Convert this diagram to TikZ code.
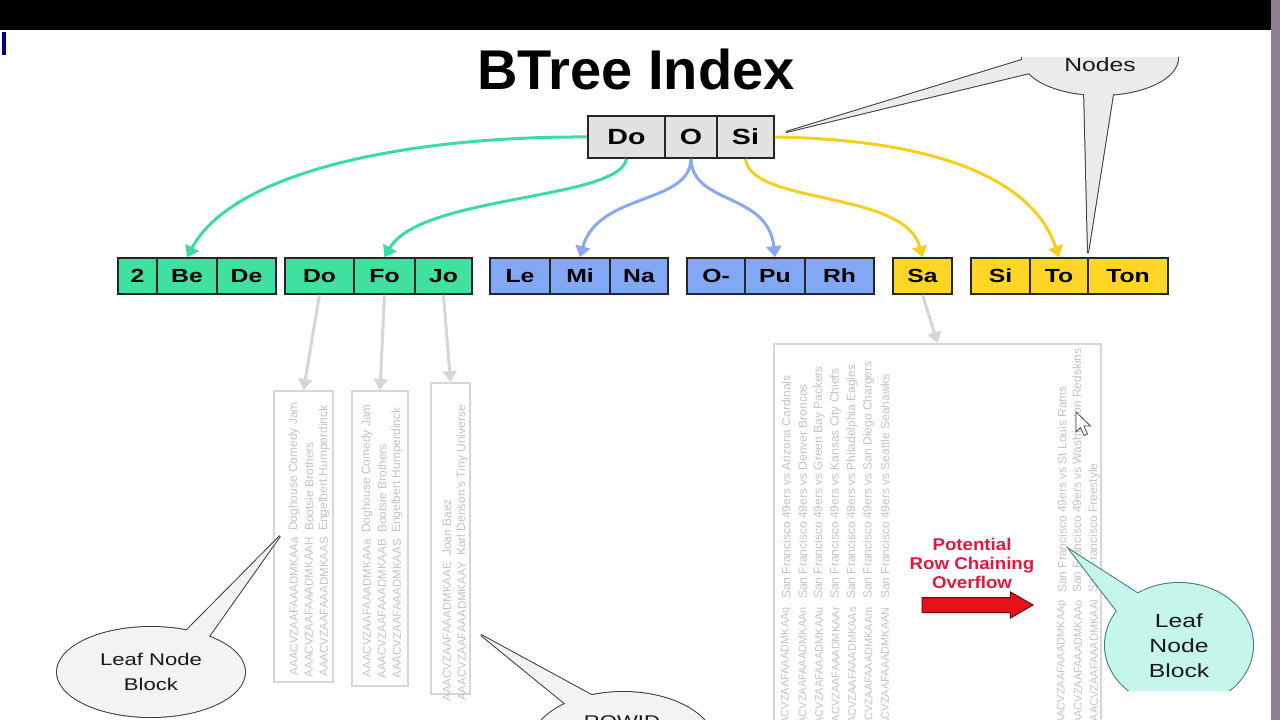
\documentclass[tikz,border=0pt]{standalone}
\usepackage{fontspec}
\setmainfont{Liberation Sans}
\newfontfamily\widef[FakeStretch=1.3]{Liberation Sans}
\newfontfamily\redfam[FakeStretch=1.1]{Liberation Sans}
\usetikzlibrary{arrows.meta,shapes.geometric,shapes.arrows}
\definecolor{gfill}{HTML}{40E0A0}
\definecolor{bfill}{HTML}{82A8F5}
\definecolor{yfill}{HTML}{FFD526}
\definecolor{rfill}{HTML}{E2E2E2}
\definecolor{garr}{HTML}{3ADCA0}
\definecolor{barr}{HTML}{88A8F0}
\definecolor{yarr}{HTML}{F5CF1E}
\definecolor{leafline}{HTML}{D6D6D6}
\definecolor{leaftxt}{HTML}{C4C4C4}
\definecolor{redtxt}{HTML}{E5173F}
\definecolor{redarr}{HTML}{E8101C}
\definecolor{callfill}{HTML}{F3F3F3}
\definecolor{nodesfill}{HTML}{EBEBEB}
\definecolor{callline}{HTML}{3C3C3C}
\definecolor{cyanfill}{HTML}{C6F5EC}
\definecolor{cyanline}{HTML}{3E7C74}
\definecolor{noise}{HTML}{8C7F8E}
\begin{document}
\begin{tikzpicture}[x=1pt,y=-1pt,
  cell/.style={draw=black!85, line width=1.6pt, inner sep=0pt, text=black},
  rootcell/.style={cell, fill=rfill, minimum height=42pt, font=\widef\bfseries\fontsize{22}{24}\selectfont},
  lvcell/.style={cell, minimum height=36pt, font=\widef\bfseries\fontsize{19}{21}\selectfont},
  gcell/.style={lvcell, fill=gfill},
  bcell/.style={lvcell, fill=bfill},
  ycell/.style={lvcell, fill=yfill},
  treearrow/.style={line width=3pt, -{Triangle[width=15pt,length=11pt]}},
  leafarrow/.style={draw=leafline, line width=3pt, -{Triangle[width=14pt,length=11pt]}},
  leafbox/.style={draw=leafline, line width=2pt, inner sep=0pt},
  idtext/.style={rotate=90, anchor=east, inner sep=0pt, text=leaftxt, font=\fontsize{11.5}{12}\selectfont},
  nametext/.style={rotate=90, anchor=west, inner sep=0pt, text=leaftxt, font=\fontsize{12}{13}\selectfont},
  calloutS/.style={draw=callline, line width=2pt},
  calltext/.style={align=center, inner sep=0pt, text=black!90}
]
\useasboundingbox (0,0) rectangle (1280,720);
\fill[white] (0,0) rectangle (1280,720);
\fill[black] (0,0) rectangle (1280,30);
\fill[noise] (1271,0) rectangle (1280,720);
\fill[blue!55!black] (2,32) rectangle (6,55);

% title
\node[font=\bfseries\fontsize{56}{60}\selectfont] (title) at (636,69) {BTree Index};

% root
\node[rootcell, minimum width=77pt] (rDo) at (626.5,137) {Do};
\node[rootcell, minimum width=52pt] (rO) at (691,137) {O};
\node[rootcell, minimum width=57pt] (rSi) at (745.5,137) {Si};

% level 2
\node[gcell, minimum width=39pt] (g2) at (137.5,276) {2};
\node[gcell, minimum width=60pt] (gBe) at (187,276) {Be};
\node[gcell, minimum width=59pt] (gDe) at (246.5,276) {De};
\node[gcell, minimum width=69pt] (gDo) at (319.5,276) {Do};
\node[gcell, minimum width=61pt] (gFo) at (384.5,276) {Fo};
\node[gcell, minimum width=57pt] (gJo) at (443.5,276) {Jo};
\node[bcell, minimum width=60pt] (bLe) at (520,276) {Le};
\node[bcell, minimum width=60pt] (bMi) at (580,276) {Mi};
\node[bcell, minimum width=58pt] (bNa) at (639,276) {Na};
\node[bcell, minimum width=58pt] (bO) at (716,276) {O-};
\node[bcell, minimum width=60pt] (bPu) at (775,276) {Pu};
\node[bcell, minimum width=69pt] (bRh) at (839.5,276) {Rh};
\node[ycell, minimum width=59pt] (ySa) at (922.5,276) {Sa};
\node[ycell, minimum width=59pt] (ySi) at (1000.5,276) {Si};
\node[ycell, minimum width=58pt] (yTo) at (1059,276) {To};
\node[ycell, minimum width=80pt] (yTon) at (1128,276) {Ton};

% tree arrows
\draw[treearrow, garr] (rDo.west) .. controls (420,136) and (235,168) .. (gBe.north);
\draw[treearrow, garr] (rDo.south) .. controls (620,200) and (420,195) .. (gFo.north);
\draw[treearrow, barr] (rO.south) .. controls (690,205) and (598,192) .. (bMi.north);
\draw[treearrow, barr] (rO.south) .. controls (692,205) and (768,192) .. (bPu.north);
\draw[treearrow, yarr] (rSi.south) .. controls (750,205) and (905,190) .. (ySa.north);
\draw[treearrow, yarr] (rSi.east) .. controls (950,140) and (1035,185) .. (yTo.north);

% leaf blocks
\node[leafbox, minimum width=59pt, minimum height=291pt] (leaf1) at (303.5,536.5) {};
\node[leafbox, minimum width=56pt, minimum height=295pt] (leaf2) at (380,538.5) {};
\node[leafbox, minimum width=39pt, minimum height=311pt] (leaf3) at (450.5,538.5) {};
\node[leafbox, minimum width=327pt, minimum height=420pt] (bigleaf) at (937.5,554) {};

\foreach \x/\id/\nm [count=\i] in {294/AAACVZAAFAAADMKAAa/Doghouse Comedy Jam, 309/AAACVZAAFAAADMKAAH/Bootsie Brothers, 324/AAACVZAAFAAADMKAAS/Engelbert Humperdinck}{
  \node[idtext] (ia\i) at (\x,537) {\id};
  \node[nametext] (na\i) at (\x,531) {\nm};
}
\foreach \x/\id/\nm [count=\i] in {367/AAACVZAAFAAADMKAAa/Doghouse Comedy Jam, 382/AAACVZAAFAAADMKAAB/Bootsie Brothers, 397/AAACVZAAFAAADMKAAS/Engelbert Humperdinck}{
  \node[idtext] (ib\i) at (\x,539) {\id};
  \node[nametext] (nb\i) at (\x,533) {\nm};
}
\foreach \x/\id/\nm [count=\i] in {447/AAACVZAAFAAADMKAAE/Joan Baez, 462/AAACVZAAFAAADMKAAY/Karl Denson's Tiny Universe}{
  \node[idtext] (ic\i) at (\x,562) {\id};
  \node[nametext] (nc\i) at (\x,556) {\nm};
}
\foreach \nm/\s [count=\i] in {Arizona Cardinals/q, Denver Broncos/n, Green Bay Packers/u, Kansas City Chiefs/r, Philadelphia Eagles/s, San Diego Chargers/m, Seattle Seahawks/N}{
  \pgfmathsetmacro\xx{786+16.5*(\i-1)}
  \node[idtext, font=\fontsize{11}{12}\selectfont] (id\i) at (\xx,607) {AAACVZAAFAAADMKAA\s};
  \node[nametext] (nd\i) at (\xx,599) {San Francisco 49ers vs \nm};
}
\foreach \x/\s/\nm [count=\i] in {1062/p/San Francisco 49ers vs St Louis Rams, 1078/o/San Francisco 49ers vs Washington Redskins, 1094/l/San Francisco Freestyle}{
  \node[idtext, font=\fontsize{11}{12}\selectfont] (ie\i) at (\x,600) {AAACVZAAFAAADMKAA\s};
  \node[nametext] (ne\i) at (\x,593) {\nm};
}

% leaf arrows
\draw[leafarrow] (gDo.south) -- (leaf1.north);
\draw[leafarrow] (gFo.south) -- (leaf2.north);
\draw[leafarrow] (gJo.south) -- (leaf3.north);
\draw[leafarrow] (ySa.south) -- (bigleaf.north);

% overflow
\node[font=\redfam\bfseries\fontsize{17}{19}\selectfont, text=redtxt, align=center] (ovf) at (972,563) {Potential\\Row Chaining\\Overflow};
\node[single arrow, fill=redarr, draw=red!45!black, line width=1pt, inner xsep=0pt, inner ysep=7pt, minimum width=25pt, single arrow head extend=5.5pt, single arrow tip angle=60, minimum height=111pt] (redarrow) at (971,605) {};

% callout: Nodes
\coordinate (cNc) at (1100,58);
\coordinate (cNtip1) at (786,132);
\coordinate (cNtip2) at (1088,253);
\begin{scope}
\clip (700,57) rectangle (1271,720);
\draw[calloutS] (cNc) ellipse [x radius=78pt, y radius=37pt];
\draw[calloutS] (1035,56) -- (cNtip1) -- (1042,70) -- cycle;
\draw[calloutS] (1084,88) -- (cNtip2) -- (1114,88) -- cycle;
\fill[nodesfill] (cNc) ellipse [x radius=78pt, y radius=37pt];
\fill[nodesfill] (1035,56) -- (cNtip1) -- (1042,70) -- cycle;
\fill[nodesfill] (1084,88) -- (cNtip2) -- (1114,88) -- cycle;
\end{scope}
\node[calltext, font=\widef\fontsize{19}{21}\selectfont] (nodesT) at (1100,65) {Nodes};

% callout: left leaf node block
\coordinate (cLc) at (151,672);
\coordinate (cLtip) at (280,536);
\draw[calloutS] (cLc) ellipse [x radius=94pt, y radius=45pt];
\draw[calloutS] (182,635) -- (cLtip) -- (205,642) -- cycle;
\fill[callfill] (cLc) ellipse [x radius=94pt, y radius=45pt];
\fill[callfill] (182,635) -- (cLtip) -- (205,642) -- cycle;
\node[calltext, font=\widef\fontsize{17}{25}\selectfont] (leafL) at (cLc) {Leaf Node\\Block};

% callout: ROWID
\coordinate (cRc) at (623,745);
\coordinate (cRtip) at (481,635);
\draw[calloutS] (cRc) ellipse [x radius=92pt, y radius=53pt];
\draw[calloutS] (595,697) -- (cRtip) -- (568,706) -- cycle;
\fill[callfill] (cRc) ellipse [x radius=92pt, y radius=53pt];
\fill[callfill] (595,697) -- (cRtip) -- (568,706) -- cycle;
\node[calltext, font=\widef\fontsize{17}{20}\selectfont] (rowid) at (622,722) {ROWID};

% callout: right leaf node block
\coordinate (cCc) at (1179,645);
\coordinate (cCtip) at (1070,550);
\begin{scope}
\clip (1000,540) rectangle (1271,690);
\draw[calloutS, draw=cyanline] (cCc) ellipse [x radius=74pt, y radius=62pt];
\draw[calloutS, draw=cyanline] (1140,595) -- (cCtip) -- (1120,615) -- cycle;
\fill[cyanfill] (cCc) ellipse [x radius=74pt, y radius=62pt];
\fill[cyanfill] (1140,595) -- (cCtip) -- (1120,615) -- cycle;
\end{scope}
\node[calltext, font=\widef\fontsize{19}{25}\selectfont] (leafR) at (1179,646) {Leaf\\Node\\Block};

% mouse cursor
\draw[fill=white, draw=black!70, line width=0.8pt] (1076,412) -- ++(0,20) -- ++(4.5,-4.5) -- ++(3.5,8) -- ++(3.5,-1.6) -- ++(-3.5,-8) -- ++(6.5,0) -- cycle;
\end{tikzpicture}
\end{document}
